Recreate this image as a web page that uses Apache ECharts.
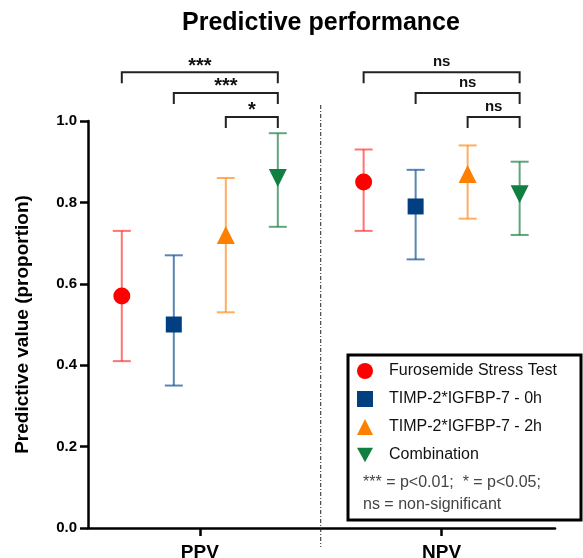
<!DOCTYPE html>
<html>
<head>
<meta charset="utf-8">
<script src="https://cdn.jsdelivr.net/npm/echarts@6/dist/echarts.min.js"></script>
<style>
  html, body { margin: 0; padding: 0; background: #fff; }
  #chart { width: 583px; height: 558px; }
</style>
</head>
<body>
<div id="chart"></div>
<script>
// groups on the x axis
var categories = ['PPV', 'NPV'];
var groupCenters = [2.5, 7.15];
var memberOffsets = [-1.5, -0.5, 0.5, 1.5];

var seriesNames = ['Furosemide Stress Test', 'TIMP-2*IGFBP-7 - 0h', 'TIMP-2*IGFBP-7 - 2h', 'Combination'];

// point estimate + 95% CI, one entry per group (PPV, NPV)
var fstValues = [0.57, 0.85];
var fstLower = [0.41, 0.73];
var fstUpper = [0.73, 0.93];

var timp0Values = [0.50, 0.79];
var timp0Lower = [0.35, 0.66];
var timp0Upper = [0.67, 0.88];

var timp2Values = [0.72, 0.87];
var timp2Lower = [0.53, 0.76];
var timp2Upper = [0.86, 0.94];

var comboValues = [0.86, 0.82];
var comboLower = [0.74, 0.72];
var comboUpper = [0.97, 0.90];

var yTicks = [0, 0.2, 0.4, 0.6, 0.8, 1.0];

// significance brackets: group, from member, to member, label
var comparisons = [
    [0, 0, 3, '***'],
    [0, 1, 3, '***'],
    [0, 2, 3, '*'],
    [1, 0, 3, 'ns'],
    [1, 1, 3, 'ns'],
    [1, 2, 3, 'ns']
];

var markerColors = ['#ff0000', '#023f80', '#ff8000', '#117f40'];
var barColors = ['rgba(255,40,40,0.65)', 'rgba(20,80,150,0.7)', 'rgba(255,140,30,0.7)', 'rgba(30,130,70,0.7)'];
var symbols = ['circle', 'rect', 'triangle', 'path://M0,0L10,0L5,9Z'];
var symbolSizes = [17, 16, 18, 18];
var bracketLevels = [1.12, 1.069, 1.01];

var allValues = [fstValues, timp0Values, timp2Values, comboValues];
var allLower = [fstLower, timp0Lower, timp2Lower, comboLower];
var allUpper = [fstUpper, timp0Upper, timp2Upper, comboUpper];

var FONT = '"Liberation Sans", Arial, Helvetica, sans-serif';

function xOf(group, member) {
    return groupCenters[group] + memberOffsets[member];
}

var series = [];

seriesNames.forEach(function (name, i) {
    var bars = categories.map(function (c, g) {
        return [xOf(g, i), allLower[i][g], allUpper[i][g]];
    });
    series.push({
        type: 'custom',
        z: 2,
        silent: true,
        data: bars,
        renderItem: function (params, api) {
            var lo = api.coord([api.value(0), api.value(1)]);
            var hi = api.coord([api.value(0), api.value(2)]);
            var cap = 9;
            var style = { stroke: barColors[i], lineWidth: 2 };
            return {
                type: 'group',
                children: [
                    { type: 'line', shape: { x1: lo[0], y1: lo[1], x2: hi[0], y2: hi[1] }, style: style },
                    { type: 'line', shape: { x1: lo[0] - cap, y1: lo[1], x2: lo[0] + cap, y2: lo[1] }, style: style },
                    { type: 'line', shape: { x1: hi[0] - cap, y1: hi[1], x2: hi[0] + cap, y2: hi[1] }, style: style }
                ]
            };
        }
    });
    series.push({
        name: name,
        type: 'scatter',
        z: 3,
        symbol: symbols[i],
        symbolSize: symbolSizes[i],
        itemStyle: { color: markerColors[i], opacity: 1 },
        data: categories.map(function (c, g) {
            return [xOf(g, i), allValues[i][g]];
        })
    });
});

// brackets
series.push({
    type: 'custom',
    silent: true,
    clip: false,
    z: 4,
    data: comparisons.map(function (c) {
        return [xOf(c[0], c[1]), xOf(c[0], c[2]), bracketLevels[c[1]]];
    }),
    renderItem: function (params, api) {
        var a = api.coord([api.value(0), api.value(2)]);
        var b = api.coord([api.value(1), api.value(2)]);
        var drop = 11;
        var label = comparisons[params.dataIndex][3];
        var isStar = label !== 'ns';
        return {
            type: 'group',
            children: [
                {
                    type: 'polyline',
                    shape: { points: [[a[0], a[1] + drop], [a[0], a[1]], [b[0], b[1]], [b[0], b[1] + drop]] },
                    style: { stroke: '#222', lineWidth: 2, fill: null }
                },
                {
                    type: 'text',
                    x: (a[0] + b[0]) / 2,
                    y: a[1] - (isStar ? 6 : 10),
                    style: {
                        text: label,
                        align: 'center',
                        verticalAlign: 'middle',
                        font: 'bold ' + (isStar ? 20 : 15) + 'px ' + FONT,
                        fill: '#111'
                    }
                }
            ]
        };
    }
});

// dash-dot divider between groups
series.push({
    type: 'custom',
    silent: true,
    clip: false,
    z: 1,
    data: [[(groupCenters[0] + groupCenters[1]) / 2]],
    renderItem: function (params, api) {
        var top = api.coord([api.value(0), 1]);
        var bottom = api.coord([api.value(0), 0]);
        return {
            type: 'line',
            shape: { x1: top[0], y1: top[1] - 16, x2: bottom[0], y2: bottom[1] + 19 },
            style: { stroke: '#222', lineWidth: 1, lineDash: [4, 2, 1, 2] }
        };
    }
});

var option = {
    animation: false,
    backgroundColor: '#fff',
    title: {
        text: 'Predictive performance',
        left: 177,
        top: 6,
        textStyle: { fontFamily: FONT, fontWeight: 'bold', fontSize: 25, color: '#000' }
    },
    grid: { left: 88, right: 28, top: 121, bottom: 30, containLabel: false, outerBoundsMode: 'none' },
    legend: {
        data: seriesNames,
        orient: 'vertical',
        left: 357,
        top: 363,
        padding: 0,
        itemWidth: 16,
        itemHeight: 16,
        itemGap: 12,
        selectedMode: false,
        textStyle: { fontFamily: FONT, fontSize: 16, color: '#111', padding: [0, 0, 0, 11] }
    },
    xAxis: {
        type: 'value',
        min: 0.35,
        max: 9.33,
        splitLine: { show: false },
        axisLine: { lineStyle: { color: '#000', width: 2.5 } },
        axisTick: { customValues: groupCenters, length: 8, lineStyle: { color: '#000', width: 2.5 } },
        axisLabel: {
            customValues: groupCenters,
            margin: 15,
            fontFamily: FONT,
            fontWeight: 'bold',
            fontSize: 19,
            color: '#000',
            formatter: function (v) {
                var idx = groupCenters.indexOf(v);
                return idx >= 0 ? categories[idx] : '';
            }
        }
    },
    yAxis: {
        type: 'value',
        min: 0,
        max: 1,
        interval: 0.2,
        name: 'Predictive value (proportion)',
        nameLocation: 'middle',
        nameGap: 56,
        nameTextStyle: { fontFamily: FONT, fontWeight: 'bold', fontSize: 19, color: '#000' },
        splitLine: { show: false },
        axisLine: { show: true, lineStyle: { color: '#000', width: 2.5 } },
        axisTick: { show: true, length: 8, lineStyle: { color: '#000', width: 2.5 } },
        axisLabel: {
            margin: 11,
            fontFamily: FONT,
            fontWeight: 'bold',
            fontSize: 15,
            color: '#000',
            formatter: function (v) {
                return yTicks.indexOf(Math.round(v * 10) / 10) >= 0 ? v.toFixed(1) : '';
            }
        }
    },
    graphic: [
        {
            type: 'rect',
            z: 0,
            shape: { x: 348, y: 355, width: 233, height: 165 },
            style: { fill: '#fff', stroke: '#000', lineWidth: 3 }
        },
        {
            type: 'text',
            z: 5,
            x: 363,
            y: 483,
            style: { text: '*** = p<0.01;  * = p<0.05;', font: '16px ' + FONT, fill: '#444', verticalAlign: 'middle' }
        },
        {
            type: 'text',
            z: 5,
            x: 363,
            y: 505,
            style: { text: 'ns = non-significant', font: '16px ' + FONT, fill: '#444', verticalAlign: 'middle' }
        }
    ],
    series: series
};

var chart = echarts.init(document.getElementById('chart'));
chart.setOption(option);
</script>
</body>
</html>
